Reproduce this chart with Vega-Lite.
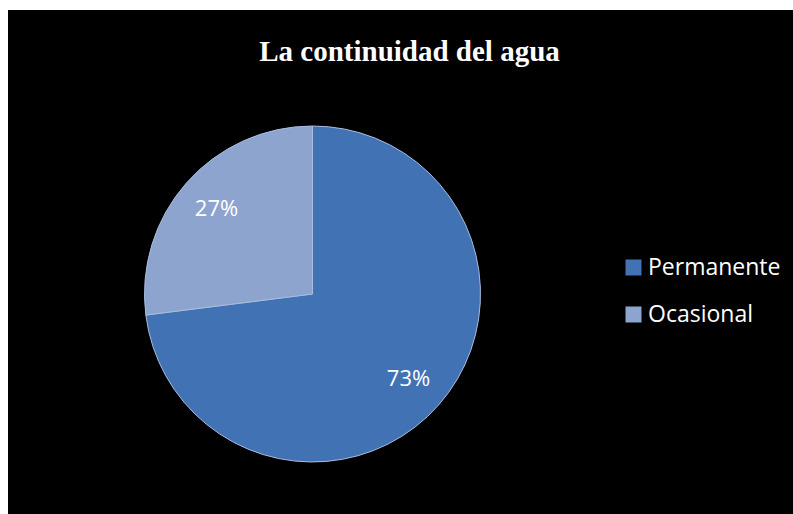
{
  "$schema": "https://vega.github.io/schema/vega-lite/v6.json",
  "width": 793,
  "height": 514,
  "autosize": {"type": "fit", "contains": "padding"},
  "padding": {"left": 8, "top": 10, "right": 0, "bottom": 0},
  "background": "white",
  "view": {"fill": "black", "stroke": "black", "strokeWidth": 0},
  "title": {
    "text": "La continuidad del agua",
    "font": "Liberation Serif",
    "fontSize": 29,
    "fontWeight": "bold",
    "color": "white",
    "anchor": "middle",
    "baseline": "alphabetic",
    "offset": -50,
    "dy": 30,
    "dx": 9
  },
  "data": {
    "values": [
      {"categoria": "Permanente", "porcentaje": 73, "etiqueta": "73%", "orden": 1},
      {"categoria": "Ocasional", "porcentaje": 27, "etiqueta": "27%", "orden": 2}
    ]
  },
  "encoding": {
    "theta": {"field": "porcentaje", "type": "quantitative", "stack": true},
    "order": {"field": "orden", "type": "quantitative"}
  },
  "layer": [
    {
      "mark": {"type": "arc", "outerRadius": 168, "xOffset": -88, "yOffset": 32, "stroke": "#a9bde0", "strokeWidth": 1},
      "encoding": {
        "color": {
          "field": "categoria",
          "type": "nominal",
          "sort": ["Permanente", "Ocasional"],
          "scale": {"domain": ["Permanente", "Ocasional"], "range": ["#4072b4", "#8da4ce"]},
          "legend": {
            "title": null,
            "orient": "none",
            "legendX": 614,
            "legendY": 246,
            "symbolType": "square",
            "symbolSize": 256,
            "symbolStrokeWidth": 0,
            "labelFont": "Open Sans",
            "labelFontSize": 23,
            "labelColor": "white",
            "labelOffset": 3,
            "rowPadding": 23,
            "labelLimit": 300
          }
        }
      }
    },
    {
      "mark": {"type": "text", "radius": 128, "xOffset": -88, "yOffset": 32, "font": "Open Sans", "fontSize": 22, "color": "white", "align": "center", "baseline": "middle"},
      "encoding": {
        "text": {"field": "etiqueta", "type": "nominal"}
      }
    }
  ]
}
